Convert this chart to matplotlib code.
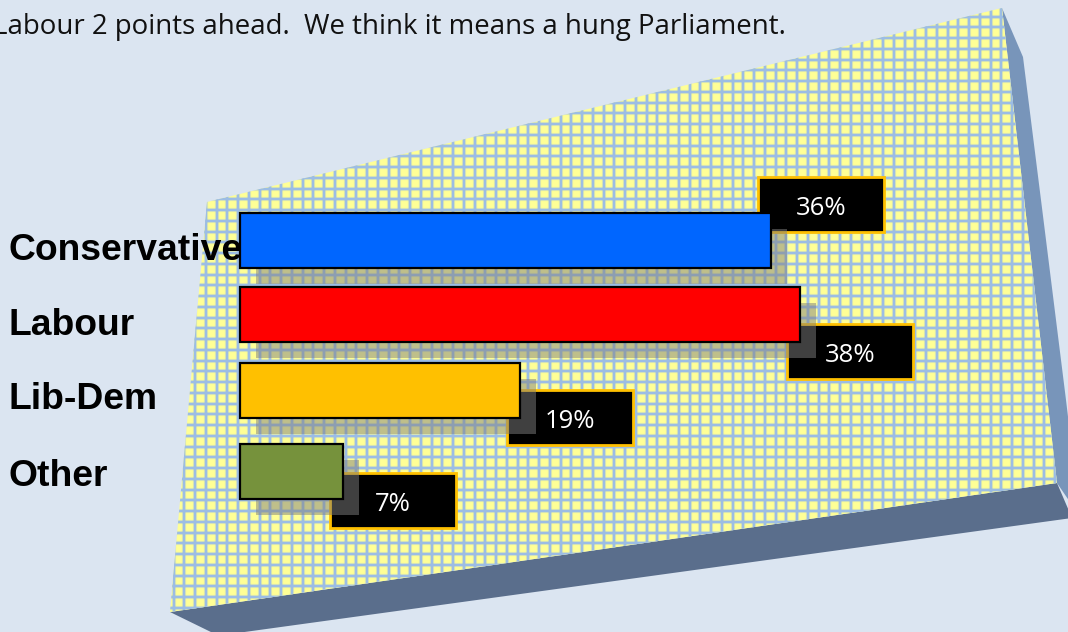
import matplotlib
matplotlib.use('Agg')
import matplotlib.pyplot as plt
import numpy as np
from matplotlib.patches import Polygon, Rectangle
from matplotlib.transforms import offset_copy

# poll shares
parties = ['Conservative', 'Labour', 'Lib-Dem', 'Other']
shares = [36, 38, 19, 7]
bar_colors = ['#0066FF', '#FF0000', '#FFC000', '#76923C']

headline = 'Labour 2 points ahead.  We think it means a hung Parliament.'

# layout in pixels
W, H = 1068, 632
rows = [240.5, 314.5, 390.5, 471.5]
name_rows = [250, 325.5, 399.5, 476]
box_shift = [-36, 37, 27, 29]
bar_left = 240
px_per_point = 14.74
bar_height = 55
box_w, box_h = 126, 55

fig = plt.figure(figsize=(W / 100, H / 100), dpi=100, facecolor='#DBE5F1')

# tilted backdrop with two side faces
back = fig.add_axes([0, 0, 1, 1])
back.set_xlim(0, W)
back.set_ylim(H, 0)
back.axis('off')

right_face = Polygon([(1002, 8), (1023, 57), (1041, 200), (1066, 400), (1072, 450), (1072, 505), (1057, 483)],
                     closed=True, fc='#7895BA', ec='none')
bottom_face = Polygon([(170, 612), (1057, 483), (1072, 518), (230, 634), (215, 634)],
                      closed=True, fc='#5A6E8C', ec='none')
back.add_patch(right_face)
back.add_patch(bottom_face)

plane = Polygon([(207, 202), (1002, 8), (1057, 483), (170, 612)], closed=True, fc='#FFFF96', ec='none')
back.add_patch(plane)

# lattice: soft halo under a narrower core line
step = 10.75
for x in np.arange(216.7 - 6 * step, W, step):
    for lw, alpha in [(3.0, 0.3), (1.7, 1)]:
        ln = back.plot([x, x], [0, H], color='#9CBDE4', lw=lw, alpha=alpha, solid_capstyle='butt')[0]
        ln.set_clip_path(plane)
for y in np.arange(210 - 20 * step, H, step):
    for lw, alpha in [(3.0, 0.3), (1.7, 1)]:
        ln = back.plot([0, W], [y, y], color='#9CBDE4', lw=lw, alpha=alpha, solid_capstyle='butt')[0]
        ln.set_clip_path(plane)

back.text(-7, 27, headline, family='Open Sans', fontsize=19.9, color='#111111', va='center', ha='left')

# bars
ax = fig.add_axes([0, 0, 1, 1])
ax.patch.set_alpha(0)
ax.set_xlim(-bar_left / px_per_point, (W - bar_left) / px_per_point)
ax.set_ylim(H, 0)
ax.axis('off')

for row, val, dy in zip(rows, shares, box_shift):
    left = val - 13 / px_per_point
    ax.add_patch(Rectangle((left, row + dy - box_h / 2), box_w / px_per_point, box_h,
                           fc='black', ec='#FFC000', lw=2, zorder=2))
    ax.text(left + box_w / 2 / px_per_point, row + dy + 4, f'{val}%', color='white',
            family='Open Sans', fontsize=18.5, ha='center', va='center', zorder=6)

shadow_tr = offset_copy(ax.transData, fig=fig, x=16, y=-16, units='dots')
ax.barh(rows, shares, height=bar_height, color='#808080', alpha=0.5, transform=shadow_tr, zorder=3)
ax.barh(rows, shares, height=bar_height, color=bar_colors, edgecolor='black', linewidth=1.6, zorder=4)

for row, name in zip(name_rows, parties):
    ax.text((8 - bar_left) / px_per_point, row, name, family='Liberation Sans', fontweight='bold',
            fontsize=26.8, color='black', ha='left', va='center', zorder=5)

fig.savefig('out.png', dpi=100, facecolor=fig.get_facecolor())
